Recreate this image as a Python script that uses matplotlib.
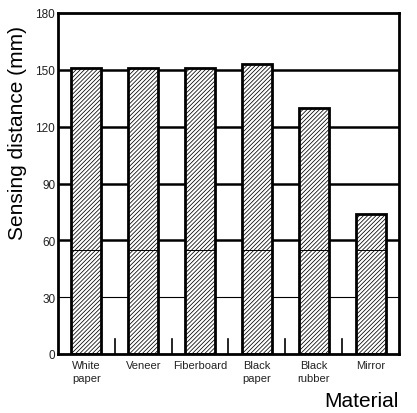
import matplotlib
matplotlib.use("Agg")
import matplotlib.pyplot as plt
import numpy as np

categories = ["White\npaper", "Veneer", "Fiberboard", "Black\npaper", "Black\nrubber", "Mirror"]
distances = [151, 151, 151, 153, 130, 74]
split_level = 55
yticks = [0, 30, 60, 90, 120, 150, 180]

plt.rcParams['font.family'] = ['Liberation Sans', 'DejaVu Sans']
plt.rcParams['hatch.linewidth'] = 0.55
plt.rcParams['hatch.color'] = '#505050'

fig = plt.figure(figsize=(4.17, 4.14), dpi=100)
ax = fig.add_axes([58/417, 1-355/414, 341/417, 341/414])

x = np.arange(len(categories))
w = 0.53

# gridlines
for yv in yticks[1:-1]:
    lw = 0.8 if yv == 30 else 1.8
    ax.axhline(yv, color='black', lw=lw, zorder=1)

ax.bar(x, distances, width=w, color='white', edgecolor='black', linewidth=2.0,
       hatch='////////', zorder=2)
# thin inner line
for xi, d in zip(x, distances):
    ax.plot([xi - w/2, xi + w/2], [split_level, split_level], color='black', lw=0.7, zorder=3)

# small separator ticks at bottom
for b in np.arange(0.5, len(categories) - 0.5, 1.0):
    ax.plot([b, b], [0, 8], color='black', lw=1.2, zorder=3)

ax.set_xlim(-0.5, len(categories) - 0.5)
ax.set_ylim(0, 180)
ax.set_yticks(yticks)
ax.set_yticklabels([str(v) for v in yticks], fontsize=8.5, color='#222222')
ax.set_xticks(x)
ax.set_xticklabels(categories, fontsize=8, color='#222222', linespacing=1.45, va='top')
ax.tick_params(axis='both', length=0, pad=2)
ax.tick_params(axis='x', pad=4)
for s in ax.spines.values():
    s.set_linewidth(2.0)

fig.text(18/417, 1-133/414, "Sensing distance (mm)", fontsize=15, rotation=90,
         ha='center', va='center')
fig.text(399/417, 1-402/414, "Material", fontsize=15, ha='right', va='center')

fig.savefig("out.png", dpi=100)
